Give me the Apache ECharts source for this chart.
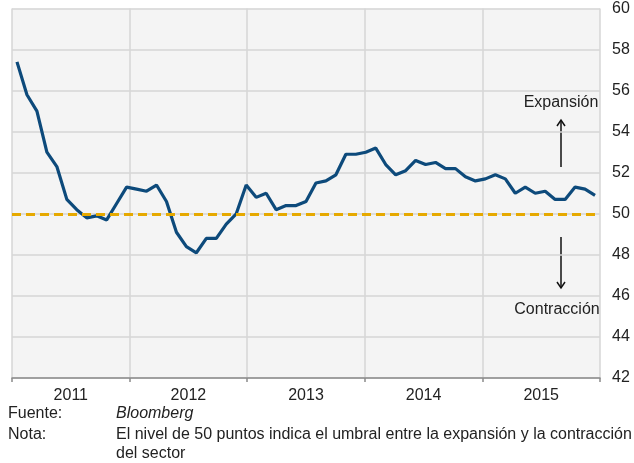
<!DOCTYPE html>
<html>
<head>
<meta charset="utf-8">
<script src="https://cdn.jsdelivr.net/npm/echarts@6/dist/echarts.min.js"></script>
<style>
  html, body { margin: 0; padding: 0; background: #fff; }
  #chart { width: 634px; height: 463px; }
</style>
</head>
<body>
<div id="chart"></div>
<script>
// años del eje X (bandas) y meses de la serie
const years = ['2011', '2012', '2013', '2014', '2015']
const monthNames = ['ene', 'feb', 'mar', 'abr', 'may', 'jun', 'jul', 'ago', 'sep', 'oct', 'nov', 'dic']
// PMI mensual, ene-2011 a nov-2015
const pmi2011 = [57.4, 55.8, 55.0, 53.0, 52.3, 50.7, 50.2, 49.8, 49.9, 49.7, 50.5, 51.3]
const pmi2012 = [51.2, 51.1, 51.4, 50.6, 49.1, 48.4, 48.1, 48.8, 48.8, 49.5, 50.0, 51.4]
const pmi2013 = [50.8, 51.0, 50.2, 50.4, 50.4, 50.6, 51.5, 51.6, 51.9, 52.9, 52.9, 53.0]
const pmi2014 = [53.2, 52.4, 51.9, 52.1, 52.6, 52.4, 52.5, 52.2, 52.2, 51.8, 51.6, 51.7]
const pmi2015 = [51.9, 51.7, 51.0, 51.3, 51.0, 51.1, 50.7, 50.7, 51.3, 51.2, 50.9]
const threshold = 50
const yTicks = { min: 42, max: 60, step: 2 }

const pmi = [...pmi2011, ...pmi2012, ...pmi2013, ...pmi2014, ...pmi2015]
const months = pmi.map((_, i) => monthNames[i % 12] + '-' + years[Math.floor(i / 12)])

const font = '"Liberation Sans", Arial, sans-serif'
const fs = 16
const txt = '#222'

function label(x, y, text, extra) {
  return {
    type: 'text', x: x, y: y,
    style: Object.assign({ text: text, fill: txt, font: fs + 'px ' + font, verticalAlign: 'middle' }, extra || {})
  }
}

const chart = echarts.init(document.getElementById('chart'), null, { renderer: 'canvas' })
chart.setOption({
  animation: false,
  grid: {
    left: 12,
    right: 34,
    top: 8.5,
    bottom: 85,
    show: true,
    backgroundColor: '#f4f4f4',
    borderWidth: 0
  },
  xAxis: [
    {
      type: 'category',
      data: years,
      boundaryGap: true,
      axisLine: { show: true, lineStyle: { color: '#8a8a8a', width: 1.5 } },
      axisTick: { show: true, length: 4, lineStyle: { color: '#8a8a8a', width: 1.5 } },
      axisLabel: { color: txt, fontSize: fs, fontFamily: font, margin: 10 },
      splitLine: { show: true, lineStyle: { color: '#d6d6d6', width: 1.5 } }
    },
    {
      type: 'category',
      data: months,
      boundaryGap: true,
      show: false
    }
  ],
  yAxis: {
    type: 'value',
    position: 'right',
    min: yTicks.min,
    max: yTicks.max,
    interval: yTicks.step,
    axisLine: { show: false },
    axisTick: { show: false },
    axisLabel: { color: txt, fontSize: fs, fontFamily: font, margin: 12 },
    splitLine: { lineStyle: { color: '#d6d6d6', width: 1.5 } }
  },
  series: [
    {
      name: 'PMI',
      type: 'line',
      xAxisIndex: 1,
      data: pmi,
      showSymbol: false,
      lineStyle: { color: '#0d4a7b', width: 3.2 },
      z: 3,
      markLine: {
        silent: true,
        symbol: 'none',
        label: { show: false },
        lineStyle: { color: '#e6a900', width: 3.2, type: [9, 5] },
        data: [{ yAxis: threshold }]
      }
    }
  ],
  graphic: [
    // anotaciones
    label(561, 103, 'Expansión', { align: 'center' }),
    label(557, 310, 'Contracción', { align: 'center' }),
    { type: 'line', shape: { x1: 561, y1: 167, x2: 561, y2: 121 }, style: { stroke: '#111', lineWidth: 1.5 } },
    { type: 'polyline', shape: { points: [[557, 126], [561, 120], [565, 126]] }, style: { stroke: '#111', lineWidth: 1.5, fill: null } },
    { type: 'line', shape: { x1: 561, y1: 237, x2: 561, y2: 288 }, style: { stroke: '#111', lineWidth: 1.5 } },
    { type: 'polyline', shape: { points: [[557, 282], [561, 288], [565, 282]] }, style: { stroke: '#111', lineWidth: 1.5, fill: null } },
    // fuente y nota
    label(8, 414, 'Fuente:'),
    label(116, 414, 'Bloomberg', { font: 'italic ' + fs + 'px ' + font }),
    label(8, 435, 'Nota:'),
    label(116, 435, 'El nivel de 50 puntos indica el umbral entre la expansión y la contracción'),
    label(116, 454, 'del sector')
  ]
})
</script>
</body>
</html>
